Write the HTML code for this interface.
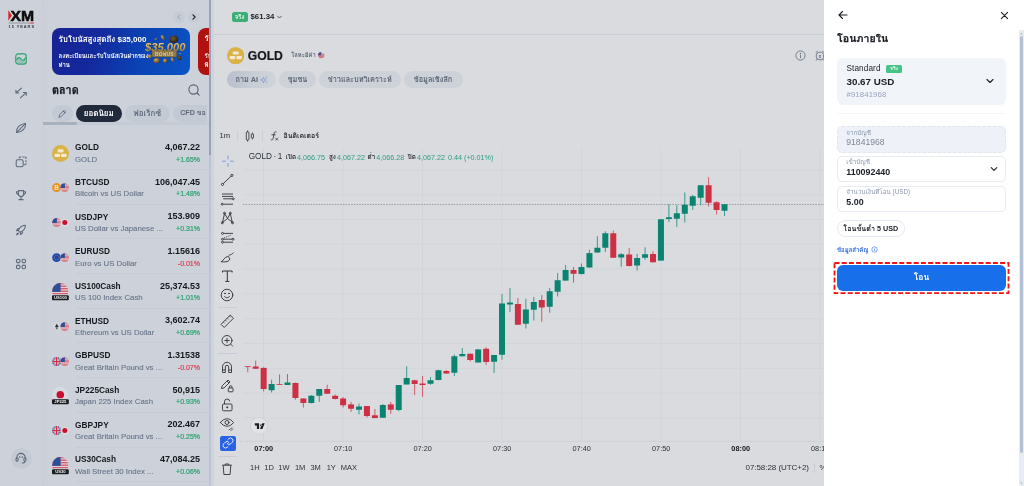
<!DOCTYPE html>
<html lang="th">
<head>
<meta charset="utf-8">
<title>XM - โอนภายใน</title>
<style>
*{box-sizing:border-box;margin:0;padding:0}
html,body{width:1024px;height:486px;overflow:hidden;background:#d9dbdf}
body{font-family:"Liberation Sans","Loma","Noto Sans Thai Looped","Noto Sans Thai",sans-serif;color:#111;position:relative;font-size:10px;line-height:1}
.abs{position:absolute}
.t{position:absolute;white-space:nowrap;line-height:1}
/* left */
#left{position:absolute;left:0;top:0;width:209px;height:486px;background:#cdd2da;overflow:hidden}
#navline{position:absolute;left:42.5px;top:0;width:0;height:486px;border-left:1px dotted #c3c9d3}
#sb1{position:absolute;left:209px;top:0;width:2px;height:486px;background:#b9c4d4}
#sb1 i{position:absolute;left:0;top:0;width:2px;height:155px;background:#97a4b5}
#gap{position:absolute;left:211px;top:0;width:3px;height:486px;background:#ced4dd}
.navic{position:absolute;left:14.3px;width:14px;height:14px}
.pill{position:absolute;top:105px;height:17px;border-radius:9px;background:#c4cad3;color:#5f6b7c;font-size:8px;font-weight:700;line-height:17px;text-align:center;white-space:nowrap;overflow:hidden}
.row{position:absolute;left:43px;width:166px;height:34.6px}
.row .nm{position:absolute;left:32px;top:7.8px;font-size:8.3px;font-weight:700;color:#15181d;white-space:nowrap;letter-spacing:0}
.row .sb{position:absolute;left:32px;top:20px;font-size:7.8px;color:#68758a;-webkit-text-stroke:.12px #68758a;white-space:nowrap;letter-spacing:0}
.row .pr{position:absolute;right:9px;top:7.5px;font-size:9px;font-weight:700;color:#15181d;white-space:nowrap}
.row .ch{position:absolute;right:9px;top:20.2px;font-size:7px;-webkit-text-stroke:.2px currentColor;white-space:nowrap}
.row .ln{position:absolute;left:32px;right:0;bottom:0;height:1px;background:#c6ccd5}
.row .ic{position:absolute;left:9px;top:9px;width:17px;height:17px}
.up{color:#2ba36f}.dn{color:#d6455a}
/* chart */
#chart{position:absolute;left:214px;top:0;width:610px;height:486px;background:#d9dbdf;overflow:hidden}
.cp{position:absolute;top:71px;height:17px;border-radius:9px;background:#cdd1d8;color:#5b6677;font-size:7.3px;font-weight:700;line-height:17px;text-align:center;white-space:nowrap;overflow:hidden}
.tool{position:absolute;left:219px;width:16px;height:16px}
/* panel */
#panel{position:absolute;left:824px;top:0;width:200px;height:486px;background:#fff;overflow:hidden}
.fld{position:absolute;left:13px;width:169px;height:25.5px;border:1px solid #e6ebf4;border-radius:5px;background:#fff}
.fld .lb{position:absolute;left:8.3px;top:2px;font-size:6.3px;color:#8a96ab;white-space:nowrap}
.fld .vl{position:absolute;left:8.3px;top:10.3px;font-size:8.9px;font-weight:700;color:#1b1f26;white-space:nowrap}
</style>
</head>
<body>

<!-- ================= LEFT ================= -->
<div id="left">
  <div id="navline"></div>
  <!-- logo -->
  <svg class="abs" style="left:7px;top:8px" width="30" height="22" viewBox="0 0 30 22">
    <polygon points="1.3,2.3 4.9,7.5 1.3,12.8" fill="#d8232a"/>
    <text x="3.6" y="12.9" font-family="Liberation Sans, sans-serif" font-weight="700" font-size="14.5" fill="#0d0d0d" textLength="23.6" lengthAdjust="spacingAndGlyphs" stroke="#0d0d0d" stroke-width=".5">XM</text>
    <rect x="1.5" y="14.6" width="21.5" height=".9" fill="#8d9299"/>
    <rect x="23" y="14.6" width="4" height=".9" fill="#d8232a"/>
    <text x="1.5" y="20" font-family="Liberation Sans, sans-serif" font-weight="700" font-size="3.9" fill="#33373d" textLength="25.5" lengthAdjust="spacing">15 YEARS</text>
  </svg>

  <!-- nav icons -->
  <svg class="navic" style="top:52px" viewBox="0 0 16 16" fill="none" stroke="#2ba36f" stroke-width="1.3" stroke-linecap="round" stroke-linejoin="round"><path d="M3 8.600C5 5.800 6.400 5.800 8 8s3.400 2 5-1v5.500a1 1 0 01-1 1H4a1 1 0 01-1-1z" fill="#2ba36f" fill-opacity=".3" stroke="none"/><rect x="2" y="2.200" width="12" height="11.600" rx="2.600"/><path d="M3 8.600C5 5.800 6.400 5.800 8 8s3.400 2 5-1"/></svg>
  <svg class="navic" style="top:86.4px" viewBox="0 0 16 16" fill="none" stroke="#5c6879" stroke-width="1.2" stroke-linecap="round" stroke-linejoin="round"><path d="M8.500 2.400L2.200 8M2.200 8V4.800M2.200 8h3.300"/><path d="M7.300 13.600L14 7.500M14 7.500v3.200M14 7.500h-3.300"/></svg>
  <svg class="navic" style="top:120.5px" viewBox="0 0 16 16" fill="none" stroke="#5c6879" stroke-width="1.2" stroke-linecap="round" stroke-linejoin="round"><path d="M3 13.200C2.300 8 6.500 3.200 13.200 2.800 13.700 8 9.500 12.800 3 13.200z"/><path d="M3 13.200l10.200-10.400"/></svg>
  <svg class="navic" style="top:154.6px" viewBox="0 0 16 16" fill="none" stroke="#5c6879" stroke-width="1.2" stroke-linecap="round" stroke-linejoin="round"><rect x="2.500" y="5.500" width="8" height="8" rx="1.800"/><path d="M6 3.500v-.3a1 1 0 011-1h.8M10 2.200h1.300M13.700 4v-.8a1 1 0 00-1-1M13.700 6.200v1.600M13.700 9.800v.2a1 1 0 01-1 1h-.4" /></svg>
  <svg class="navic" style="top:187.8px" viewBox="0 0 16 16" fill="none" stroke="#5c6879" stroke-width="1.2" stroke-linecap="round" stroke-linejoin="round"><path d="M5 3h6v3.800a3 3 0 01-6 0z"/><path d="M5 4.200H2.800c0 2 .9 3 2.400 3.200M11 4.200h2.200c0 2-.9 3-2.400 3.200M8 10v2.300M5.600 13.300h4.800"/></svg>
  <svg class="navic" style="top:223px" viewBox="0 0 16 16" fill="none" stroke="#5c6879" stroke-width="1.2" stroke-linecap="round" stroke-linejoin="round"><path d="M6 10l-1-1c.8-3.500 3.500-6.300 8-6.500-.2 4.500-3 7.200-6.500 8z"/><path d="M5.300 8.200l-2.500.6 1.700-2.500 1.600-.1M7.800 10.700l-.6 2.500 2.500-1.700.1-1.600M4.600 11.400c-.9.300-1.500 1.200-1.600 2.100.9-.1 1.800-.7 2.100-1.600"/></svg>
  <svg class="navic" style="top:257px" viewBox="0 0 16 16" fill="none" stroke="#5c6879" stroke-width="1.200"><circle cx="4.800" cy="4.600" r="2.100"/><circle cx="11.200" cy="4.600" r="2.100"/><circle cx="4.800" cy="11.400" r="2.100"/><circle cx="11.200" cy="11.400" r="2.100"/></svg>
  <div class="abs" style="left:11px;top:448px;width:21px;height:21px;border-radius:50%;background:#c3cad4"></div>
  <svg class="navic" style="top:451.3px" viewBox="0 0 16 16" fill="none" stroke="#5c6879" stroke-width="1.2" stroke-linecap="round" stroke-linejoin="round"><path d="M3.200 8.500v-1a4.800 4.800 0 019.600 0v1"/><rect x="2.300" y="8" width="2.400" height="3.600" rx="1"/><rect x="11.300" y="8" width="2.400" height="3.600" rx="1"/><path d="M12.500 11.600c0 1.400-1.200 2-3 2"/><circle cx="6.500" cy="7" r=".3"/><circle cx="9.500" cy="7" r=".3"/></svg>

  <!-- carousel arrows -->
  <div class="abs" style="left:173px;top:11px;width:12px;height:12px;border-radius:50%;background:#c6ccd5"></div>
  <div class="abs" style="left:188px;top:11px;width:12px;height:12px;border-radius:50%;background:#c6ccd5"></div>
  <svg class="abs" style="left:173px;top:11px" width="12" height="12" viewBox="0 0 12 12" fill="none" stroke="#aab2bf" stroke-width="1.1" stroke-linecap="round" stroke-linejoin="round"><path d="M7 3.800L4.900 6 7 8.200"/></svg>
  <svg class="abs" style="left:188px;top:11px" width="12" height="12" viewBox="0 0 12 12" fill="none" stroke="#22272f" stroke-width="1.200" stroke-linecap="round" stroke-linejoin="round"><path d="M5 3.800L7.100 6 5 8.200"/></svg>

  <!-- banner -->
  <div class="abs" style="left:52px;top:27.500px;width:137.500px;height:47px;border-radius:8px;background:linear-gradient(105deg,#182494 0%,#14289c 30%,#0c40b2 60%,#0a55c6 100%);overflow:hidden">
    <div class="t" style="left:6.500px;top:8.300px;font-size:8px;font-weight:700;color:#fff">รับโบนัสสูงสุดถึง $35,000</div>
    <div class="t" style="left:6.500px;top:25.500px;font-size:6px;font-weight:700;color:#fff">ลงทะเบียนและรับโบนัสเงินฝากของ</div>
    <div class="t" style="left:6.500px;top:34.500px;font-size:6px;font-weight:700;color:#fff">ท่าน</div>
    <svg class="abs" style="left:88px;top:2.300px" width="50" height="40" viewBox="88 4 50 40">
      <defs>
        <radialGradient id="coinA" cx=".35" cy=".35" r=".8"><stop offset="0" stop-color="#c9a957"/><stop offset=".6" stop-color="#7a6230"/><stop offset="1" stop-color="#3a2f1a"/></radialGradient>
        <radialGradient id="coinB" cx=".4" cy=".4" r=".8"><stop offset="0" stop-color="#6d5a33"/><stop offset=".7" stop-color="#2e2618"/><stop offset="1" stop-color="#1c1810"/></radialGradient>
        <linearGradient id="goldT" x1="0" y1="0" x2="0" y2="1"><stop offset="0" stop-color="#f3e2a6"/><stop offset=".5" stop-color="#c9a85a"/><stop offset="1" stop-color="#8d7136"/></linearGradient>
      </defs>
      <ellipse cx="122" cy="13.200" rx="4.300" ry="3.800" fill="url(#coinB)"/>
      <ellipse cx="110.800" cy="11.300" rx="1.600" ry="2.800" transform="rotate(-30 110.800 11.300)" fill="url(#coinA)"/>
      <ellipse cx="104" cy="13" rx="1.600" ry=".8" transform="rotate(-20 104 13)" fill="url(#coinA)"/>
      <ellipse cx="104.700" cy="34.600" rx="3.200" ry="2.600" fill="url(#coinA)"/>
      <ellipse cx="113.200" cy="34.800" rx="2.100" ry="2.300" fill="url(#coinA)"/>
      <ellipse cx="120.500" cy="33.500" rx="1.500" ry="2.600" transform="rotate(-25 120.500 33.500)" fill="url(#coinA)"/>
      <ellipse cx="127.500" cy="32" rx="2" ry="2.200" fill="url(#coinB)"/>
      <ellipse cx="98" cy="30.500" rx="2" ry="2.200" fill="url(#coinA)"/>
      <circle cx="128" cy="27.500" r=".8" fill="#a88c4a"/>
      <rect x="100" y="24.300" width="24.700" height="6.600" rx=".8" fill="#8f7a4a" stroke="#5e4f2c" stroke-width=".5"/>
      <text x="112.300" y="29.500" font-family="Liberation Sans, sans-serif" font-weight="700" font-size="4.800" text-anchor="middle" fill="#d9c999" letter-spacing=".3">BONUS</text>
      <text x="93" y="24.800" font-family="Liberation Sans, sans-serif" font-weight="700" font-style="italic" font-size="11.400" textLength="40.500" lengthAdjust="spacingAndGlyphs" fill="url(#goldT)" stroke="#5d4a22" stroke-width=".35" paint-order="stroke">$35,000</text>
    </svg>
  </div>
  <div class="abs" style="left:198px;top:27.500px;width:60px;height:47px;border-radius:8px;background:#b0120f;overflow:hidden">
    <div class="t" style="left:6.500px;top:7.500px;font-size:7.600px;font-weight:700;color:#fff">รับ</div>
    <div class="t" style="left:6.500px;top:25.500px;font-size:6px;font-weight:700;color:#fff">รับ</div>
    <div class="t" style="left:6.500px;top:34.500px;font-size:6px;font-weight:700;color:#fff">พิ</div>
  </div>

  <!-- heading -->
  <div class="t" style="left:52px;top:84.500px;font-size:10.800px;font-weight:700;color:#14171c;-webkit-text-stroke:.25px #14171c">ตลาด</div>
  <svg class="abs" style="left:187px;top:83px" width="14" height="14" viewBox="0 0 14 14" fill="none" stroke="#566173" stroke-width="1.100" stroke-linecap="round"><circle cx="6.500" cy="6.500" r="4.600"/><path d="M10 10l2.200 2.200"/></svg>

  <!-- tabs -->
  <div class="pill" style="left:52px;width:20.500px"></div>
  <svg class="abs" style="left:57px;top:108.500px" width="10" height="10" viewBox="0 0 10 10" fill="none" stroke="#5f6b7c" stroke-width=".9" stroke-linecap="round" stroke-linejoin="round"><path d="M2 8l.5-2.200L7 1.300 8.700 3 4.200 7.500zM6.200 2.200l1.600 1.600"/></svg>
  <div class="pill" style="left:75.500px;width:46.500px;background:#202a3a;color:#fff">ยอดนิยม</div>
  <div class="pill" style="left:125px;width:44.500px">ฟอเร็กซ์</div>
  <div class="pill" style="left:172.500px;width:34.500px;border-radius:9px 0 0 9px;text-align:left;padding-left:7.700px;font-size:7.100px">CFD ขอ</div>
  <div class="abs" style="left:43px;top:122px;width:166px;height:2.500px;background:#c5cbd4"></div>
  <div class="abs" style="left:43px;top:122px;width:34px;height:2.500px;background:#a7b0bd;border-radius:0 2px 2px 0"></div>

  <!-- rows -->
  <div class="row" style="top:135.50px">
    <svg class="ic" viewBox="0 0 16 16"><circle cx="8" cy="8" r="8" fill="#d9b347"/><rect x="5.200" y="4.100" width="5.800" height="2.900" rx="1.300" fill="#f4ead0"/><rect x="2.300" y="8.300" width="5.400" height="3" rx="1.300" fill="#f4ead0"/><rect x="8.500" y="8.300" width="5.400" height="3" rx="1.300" fill="#f4ead0"/></svg>
    <div class="nm">GOLD</div><div class="sb">GOLD</div><div class="pr">4,067.22</div><div class="ch up">+1.65%</div><div class="ln"></div>
  </div>
  <div class="row" style="top:170.18px">
    <svg class="ic" viewBox="0 0 17 17"><circle cx="4.6" cy="8.6" r="4.5" fill="#e8921f"/><text x="4.6" y="10.9" font-size="6.4" font-weight="700" text-anchor="middle" fill="#f6e3c4" font-family="Liberation Sans, sans-serif">B</text><clipPath id="cu1"><circle cx="12.7" cy="8.6" r="4.4"/></clipPath><g clip-path="url(#cu1)"><rect x="8.3" y="4.2" width="8.8" height="8.8" fill="#e6d3d8"/><rect x="8.3" y="4.20" width="8.8" height="0.68" fill="#cf5564"/><rect x="8.3" y="5.55" width="8.8" height="0.68" fill="#cf5564"/><rect x="8.3" y="6.91" width="8.8" height="0.68" fill="#cf5564"/><rect x="8.3" y="8.26" width="8.8" height="0.68" fill="#cf5564"/><rect x="8.3" y="9.62" width="8.8" height="0.68" fill="#cf5564"/><rect x="8.3" y="10.97" width="8.8" height="0.68" fill="#cf5564"/><rect x="8.3" y="12.32" width="8.8" height="0.68" fill="#cf5564"/><rect x="8.3" y="4.2" width="4.62" height="4.75" fill="#2c4f98"/></g></svg>
    <div class="nm">BTCUSD</div><div class="sb">Bitcoin vs US Dollar</div><div class="pr">106,047.45</div><div class="ch up">+1.48%</div><div class="ln"></div>
  </div>
  <div class="row" style="top:204.86px">
    <svg class="ic" viewBox="0 0 17 17"><clipPath id="cu2"><circle cx="4.6" cy="8.6" r="4.5"/></clipPath><g clip-path="url(#cu2)"><rect x="0.1" y="4.1" width="9.0" height="9.0" fill="#e6d3d8"/><rect x="0.1" y="4.10" width="9.0" height="0.69" fill="#cf5564"/><rect x="0.1" y="5.48" width="9.0" height="0.69" fill="#cf5564"/><rect x="0.1" y="6.87" width="9.0" height="0.69" fill="#cf5564"/><rect x="0.1" y="8.25" width="9.0" height="0.69" fill="#cf5564"/><rect x="0.1" y="9.64" width="9.0" height="0.69" fill="#cf5564"/><rect x="0.1" y="11.02" width="9.0" height="0.69" fill="#cf5564"/><rect x="0.1" y="12.41" width="9.0" height="0.69" fill="#cf5564"/><rect x="0.1" y="4.1" width="4.73" height="4.86" fill="#2c4f98"/></g><circle cx="12.8" cy="8.6" r="4.2" fill="#d6dbe2"/><circle cx="12.8" cy="8.6" r="2.52" fill="#c8102e"/></svg>
    <div class="nm">USDJPY</div><div class="sb">US Dollar vs Japanese ...</div><div class="pr">153.909</div><div class="ch up">+0.31%</div><div class="ln"></div>
  </div>
  <div class="row" style="top:239.54px">
    <svg class="ic" viewBox="0 0 17 17"><circle cx="4.6" cy="8.6" r="4.4" fill="#1d46ad"/><circle cx="4.6" cy="8.6" r="2.42" fill="none" stroke="#cdbb5c" stroke-width=".7" stroke-dasharray=".7 .75"/><clipPath id="cu3"><circle cx="12.7" cy="8.6" r="4.4"/></clipPath><g clip-path="url(#cu3)"><rect x="8.3" y="4.2" width="8.8" height="8.8" fill="#e6d3d8"/><rect x="8.3" y="4.20" width="8.8" height="0.68" fill="#cf5564"/><rect x="8.3" y="5.55" width="8.8" height="0.68" fill="#cf5564"/><rect x="8.3" y="6.91" width="8.8" height="0.68" fill="#cf5564"/><rect x="8.3" y="8.26" width="8.8" height="0.68" fill="#cf5564"/><rect x="8.3" y="9.62" width="8.8" height="0.68" fill="#cf5564"/><rect x="8.3" y="10.97" width="8.8" height="0.68" fill="#cf5564"/><rect x="8.3" y="12.32" width="8.8" height="0.68" fill="#cf5564"/><rect x="8.3" y="4.2" width="4.62" height="4.75" fill="#2c4f98"/></g></svg>
    <div class="nm">EURUSD</div><div class="sb">Euro vs US Dollar</div><div class="pr">1.15616</div><div class="ch dn">-0.01%</div><div class="ln"></div>
  </div>
  <div class="row" style="top:274.22px">
    <svg class="ic" viewBox="0 0 17 18" style="height:18px"><clipPath id="ci4"><rect x="0" y="0" width="17" height="11.600"/></clipPath><g clip-path="url(#ci4)"><clipPath id="cu5"><circle cx="8.2" cy="8.2" r="8.1"/></clipPath><g clip-path="url(#cu5)"><rect x="0.1" y="0.1" width="16.2" height="16.2" fill="#e6d3d8"/><rect x="0.1" y="0.10" width="16.2" height="1.25" fill="#cf5564"/><rect x="0.1" y="2.59" width="16.2" height="1.25" fill="#cf5564"/><rect x="0.1" y="5.08" width="16.2" height="1.25" fill="#cf5564"/><rect x="0.1" y="7.58" width="16.2" height="1.25" fill="#cf5564"/><rect x="0.1" y="10.07" width="16.2" height="1.25" fill="#cf5564"/><rect x="0.1" y="12.56" width="16.2" height="1.25" fill="#cf5564"/><rect x="0.1" y="15.05" width="16.2" height="1.25" fill="#cf5564"/><rect x="0.1" y="0.1" width="8.51" height="8.75" fill="#2c4f98"/></g></g><rect x="0" y="12.300" width="16.800" height="5" rx="1" fill="#1b1d22"/><text x="8.400" y="16.300" font-size="4.200" font-weight="700" text-anchor="middle" fill="#f0f0f0" font-family="Liberation Sans, sans-serif">US100</text></svg>
    <div class="nm">US100Cash</div><div class="sb">US 100 Index Cash</div><div class="pr">25,374.53</div><div class="ch up">+1.01%</div><div class="ln"></div>
  </div>
  <div class="row" style="top:308.90px">
    <svg class="ic" viewBox="0 0 17 17"><circle cx="4.8" cy="8.6" r="4" fill="#d3d8df"/><path d="M4.8 5.8L3.0 8.7 4.8 9.7 6.6 8.7zM3.1 9.4L4.8 11.6 6.5 9.4 4.8 10.4z" fill="#2b2f38"/><clipPath id="cu6"><circle cx="12.7" cy="8.6" r="4.4"/></clipPath><g clip-path="url(#cu6)"><rect x="8.3" y="4.2" width="8.8" height="8.8" fill="#e6d3d8"/><rect x="8.3" y="4.20" width="8.8" height="0.68" fill="#cf5564"/><rect x="8.3" y="5.55" width="8.8" height="0.68" fill="#cf5564"/><rect x="8.3" y="6.91" width="8.8" height="0.68" fill="#cf5564"/><rect x="8.3" y="8.26" width="8.8" height="0.68" fill="#cf5564"/><rect x="8.3" y="9.62" width="8.8" height="0.68" fill="#cf5564"/><rect x="8.3" y="10.97" width="8.8" height="0.68" fill="#cf5564"/><rect x="8.3" y="12.32" width="8.8" height="0.68" fill="#cf5564"/><rect x="8.3" y="4.2" width="4.62" height="4.75" fill="#2c4f98"/></g></svg>
    <div class="nm">ETHUSD</div><div class="sb">Ethereum vs US Dollar</div><div class="pr">3,602.74</div><div class="ch up">+0.69%</div><div class="ln"></div>
  </div>
  <div class="row" style="top:343.58px">
    <svg class="ic" viewBox="0 0 17 17"><clipPath id="cg7"><circle cx="4.6" cy="8.6" r="4.5"/></clipPath><g clip-path="url(#cg7)"><rect x="0.1" y="4.1" width="9.0" height="9.0" fill="#2b418f"/><path d="M0.1 4.1L9.1 13.1M9.1 4.1L0.1 13.1" stroke="#e6e0e6" stroke-width="1.3"/><path d="M0.1 4.1L9.1 13.1M9.1 4.1L0.1 13.1" stroke="#c8304a" stroke-width=".5"/><path d="M4.6 4.1V13.1M0.1 8.6H9.1" stroke="#e6e0e6" stroke-width="2.4"/><path d="M4.6 4.1V13.1M0.1 8.6H9.1" stroke="#c8304a" stroke-width="1.3"/></g><clipPath id="cu8"><circle cx="12.7" cy="8.6" r="4.4"/></clipPath><g clip-path="url(#cu8)"><rect x="8.3" y="4.2" width="8.8" height="8.8" fill="#e6d3d8"/><rect x="8.3" y="4.20" width="8.8" height="0.68" fill="#cf5564"/><rect x="8.3" y="5.55" width="8.8" height="0.68" fill="#cf5564"/><rect x="8.3" y="6.91" width="8.8" height="0.68" fill="#cf5564"/><rect x="8.3" y="8.26" width="8.8" height="0.68" fill="#cf5564"/><rect x="8.3" y="9.62" width="8.8" height="0.68" fill="#cf5564"/><rect x="8.3" y="10.97" width="8.8" height="0.68" fill="#cf5564"/><rect x="8.3" y="12.32" width="8.8" height="0.68" fill="#cf5564"/><rect x="8.3" y="4.2" width="4.62" height="4.75" fill="#2c4f98"/></g></svg>
    <div class="nm">GBPUSD</div><div class="sb">Great Britain Pound vs ...</div><div class="pr">1.31538</div><div class="ch dn">-0.07%</div><div class="ln"></div>
  </div>
  <div class="row" style="top:378.26px">
    <svg class="ic" viewBox="0 0 17 18" style="height:18px"><clipPath id="ci9"><rect x="0" y="0" width="17" height="11.600"/></clipPath><g clip-path="url(#ci9)"><circle cx="8.200" cy="8.200" r="8.100" fill="#d6dbe2"/><circle cx="8.300" cy="7.700" r="3.800" fill="#c8102e"/></g><rect x="0" y="12.300" width="16.800" height="5" rx="1" fill="#1b1d22"/><text x="8.400" y="16.300" font-size="4.200" font-weight="700" text-anchor="middle" fill="#f0f0f0" font-family="Liberation Sans, sans-serif">JP225</text></svg>
    <div class="nm">JP225Cash</div><div class="sb">Japan 225 Index Cash</div><div class="pr">50,915</div><div class="ch up">+0.93%</div><div class="ln"></div>
  </div>
  <div class="row" style="top:412.94px">
    <svg class="ic" viewBox="0 0 17 17"><clipPath id="cg10"><circle cx="4.6" cy="8.6" r="4.5"/></clipPath><g clip-path="url(#cg10)"><rect x="0.1" y="4.1" width="9.0" height="9.0" fill="#2b418f"/><path d="M0.1 4.1L9.1 13.1M9.1 4.1L0.1 13.1" stroke="#e6e0e6" stroke-width="1.3"/><path d="M0.1 4.1L9.1 13.1M9.1 4.1L0.1 13.1" stroke="#c8304a" stroke-width=".5"/><path d="M4.6 4.1V13.1M0.1 8.6H9.1" stroke="#e6e0e6" stroke-width="2.4"/><path d="M4.6 4.1V13.1M0.1 8.6H9.1" stroke="#c8304a" stroke-width="1.3"/></g><circle cx="12.8" cy="8.6" r="4.2" fill="#d6dbe2"/><circle cx="12.8" cy="8.6" r="2.52" fill="#c8102e"/></svg>
    <div class="nm">GBPJPY</div><div class="sb">Great Britain Pound vs ...</div><div class="pr">202.467</div><div class="ch up">+0.25%</div><div class="ln"></div>
  </div>
  <div class="row" style="top:447.62px">
    <svg class="ic" viewBox="0 0 17 18" style="height:18px"><clipPath id="ci11"><rect x="0" y="0" width="17" height="11.600"/></clipPath><g clip-path="url(#ci11)"><clipPath id="cu12"><circle cx="8.2" cy="8.2" r="8.1"/></clipPath><g clip-path="url(#cu12)"><rect x="0.1" y="0.1" width="16.2" height="16.2" fill="#e6d3d8"/><rect x="0.1" y="0.10" width="16.2" height="1.25" fill="#cf5564"/><rect x="0.1" y="2.59" width="16.2" height="1.25" fill="#cf5564"/><rect x="0.1" y="5.08" width="16.2" height="1.25" fill="#cf5564"/><rect x="0.1" y="7.58" width="16.2" height="1.25" fill="#cf5564"/><rect x="0.1" y="10.07" width="16.2" height="1.25" fill="#cf5564"/><rect x="0.1" y="12.56" width="16.2" height="1.25" fill="#cf5564"/><rect x="0.1" y="15.05" width="16.2" height="1.25" fill="#cf5564"/><rect x="0.1" y="0.1" width="8.51" height="8.75" fill="#2c4f98"/></g></g><rect x="0" y="12.300" width="16.800" height="5" rx="1" fill="#1b1d22"/><text x="8.400" y="16.300" font-size="4.200" font-weight="700" text-anchor="middle" fill="#f0f0f0" font-family="Liberation Sans, sans-serif">US30</text></svg>
    <div class="nm">US30Cash</div><div class="sb">Wall Street 30 Index ...</div><div class="pr">47,084.25</div><div class="ch up">+0.06%</div><div class="ln"></div>
  </div>
</div>
<div id="sb1"><i></i></div>
<div id="gap"></div>

<div id="chart" style="left:0;width:824px;background:none">
  <!-- header -->
  <div class="abs" style="left:231.500px;top:11.500px;width:16px;height:10.500px;border-radius:2.500px;background:#3cae76"></div>
  <div class="t" style="left:231.500px;top:13.500px;width:16px;text-align:center;font-size:6px;font-weight:700;color:#e9f7ef">จริง</div>
  <div class="t" style="left:250.500px;top:13px;font-size:7.800px;font-weight:700;color:#1b1f26">$61.34</div>
  <svg class="abs" style="left:276.300px;top:14px" width="7" height="6" viewBox="0 0 7 6" fill="none" stroke="#444c59" stroke-width=".9" stroke-linecap="round" stroke-linejoin="round"><path d="M1.700 2.200L3.500 4l1.800-1.800"/></svg>
  <div class="abs" style="left:214px;top:33.500px;width:610px;height:1px;background:#c7ced7"></div>
  <svg class="abs" style="left:794.700px;top:50.200px" width="11" height="11" viewBox="0 0 11 11" fill="none" stroke="#5c6879" stroke-width=".8"><circle cx="5.500" cy="5.500" r="4.600"/><path d="M5.500 5v2.700" stroke-linecap="round"/><circle cx="5.500" cy="3.400" r=".3" fill="#5c6879"/></svg>
  <svg class="abs" style="left:813.500px;top:50.200px" width="11" height="11" viewBox="0 0 11 11" fill="none" stroke="#5c6879" stroke-width=".8" stroke-linecap="round"><circle cx="6" cy="6" r="3.900"/><path d="M2 2.400l1.400-1.200M10 2.400L8.600 1.200M3.300 9l-1 1.200M8.700 9l1 1.200"/><text x="6" y="7.600" font-size="4.400" font-weight="700" text-anchor="middle" fill="#5c6879" stroke="none" font-family="Liberation Sans, sans-serif">$</text></svg>

  <!-- symbol -->
  <svg class="abs" style="left:226.700px;top:46.800px" width="17.300" height="17.300" viewBox="0 0 16 16"><circle cx="8" cy="8" r="8" fill="#d9b347"/><rect x="5.200" y="4.100" width="5.800" height="2.900" rx="1.300" fill="#f4ead0"/><rect x="2.300" y="8.300" width="5.400" height="3" rx="1.300" fill="#f4ead0"/><rect x="8.500" y="8.300" width="5.400" height="3" rx="1.300" fill="#f4ead0"/></svg>
  <div class="t" style="left:247.700px;top:49.800px;font-size:12.200px;font-weight:700;color:#14171c;-webkit-text-stroke:.2px #14171c">GOLD</div>
  <div class="t" style="left:291.200px;top:52.800px;font-size:5.800px;font-weight:700;color:#5a6677">โลหะมีค่า</div>
  <svg class="abs" style="left:318.300px;top:52.200px" width="6.500" height="6.500" viewBox="0 0 10 10"><circle cx="5" cy="5" r="5" fill="#e3d5da"/><path d="M.500 3.200h9M0 5h10M.500 6.800h9M1.800 8.600h6.400" stroke="#c8485a" stroke-width="1.100"/><path d="M0 5a5 5 0 015-5v5z" fill="#44508c"/></svg>

  <!-- pills -->
  <div class="cp" style="left:227px;width:49px;background:linear-gradient(90deg,#b9c0cc 0%,#c9ced6 55%,#cfd3da 100%);text-align:left;padding-left:8.500px">ถาม AI</div>
  <svg class="abs" style="left:260px;top:75.500px" width="8" height="8" viewBox="0 0 8 8" fill="none" stroke="#7a93d6" stroke-width=".7" stroke-linejoin="round"><path d="M3.500 1.200l.8 2 2 .8-2 .8-.8 2-.8-2-2-.8 2-.8z"/><path d="M6.500 0.800v1.400M5.800 1.500h1.400M6.700 5.800v1.200M6.100 6.400h1.200" stroke-width=".5"/></svg>
  <div class="cp" style="left:279px;width:37px">ชุมชน</div>
  <div class="cp" style="left:319px;width:81.500px">ข่าวและบทวิเคราะห์</div>
  <div class="cp" style="left:403.500px;width:59px">ข้อมูลเชิงลึก</div>

  <!-- toolbar -->
  <div class="t" style="left:219.500px;top:132px;font-size:7.600px;color:#2a2e35">1m</div>
  <div class="abs" style="left:236.500px;top:130px;width:1px;height:11.500px;background:#ccd0d6"></div>
  <svg class="abs" style="left:245px;top:129.500px" width="10" height="12" viewBox="0 0 10 12" fill="none" stroke="#2a2e35" stroke-width=".8"><rect x="1.300" y="2" width="2.600" height="8" rx=".4"/><path d="M2.600 .4V2M2.600 10v1.600"/><rect x="6.300" y="4" width="2.200" height="4" rx=".4"/><path d="M7.400 2.600V4M7.400 8v1.400"/></svg>
  <div class="abs" style="left:261.500px;top:130px;width:1px;height:11.500px;background:#ccd0d6"></div>
  <svg class="abs" style="left:270px;top:129.500px" width="10" height="12" viewBox="0 0 10 12" fill="none" stroke="#2a2e35" stroke-width=".8" stroke-linecap="round"><path d="M1.200 9.800c1.200.4 1.800-.2 2-1.500l.9-5c.2-1.300.9-1.800 2-1.400M1.800 4.800h3.400"/><path d="M5.600 8l2.200 2.200M7.800 8l-2.200 2.200" stroke-width=".7"/></svg>
  <div class="t" style="left:283.500px;top:132.300px;font-size:7px;font-weight:700;color:#2a2e35">อินดิเคเตอร์</div>

  <!-- chart svg -->
  <svg class="abs" style="left:0;top:0" width="824" height="486" viewBox="0 0 824 486" shape-rendering="auto">
    <g opacity=".9">
    <rect x="263.0" y="148" width="1" height="292" fill="#d1d4d9"/>
<rect x="342.5" y="148" width="1" height="292" fill="#d1d4d9"/>
<rect x="422.0" y="148" width="1" height="292" fill="#d1d4d9"/>
<rect x="501.5" y="148" width="1" height="292" fill="#d1d4d9"/>
<rect x="581.0" y="148" width="1" height="292" fill="#d1d4d9"/>
<rect x="660.5" y="148" width="1" height="292" fill="#d1d4d9"/>
<rect x="740.0" y="148" width="1" height="292" fill="#d1d4d9"/>
<rect x="819.5" y="148" width="1" height="292" fill="#d1d4d9"/>
<rect x="243" y="169.4" width="590" height="1" fill="#d1d4d9"/>
<rect x="243" y="194.2" width="590" height="1" fill="#d1d4d9"/>
<rect x="243" y="219.0" width="590" height="1" fill="#d1d4d9"/>
<rect x="243" y="243.8" width="590" height="1" fill="#d1d4d9"/>
<rect x="243" y="268.6" width="590" height="1" fill="#d1d4d9"/>
<rect x="243" y="293.4" width="590" height="1" fill="#d1d4d9"/>
<rect x="243" y="318.2" width="590" height="1" fill="#d1d4d9"/>
<rect x="243" y="343.0" width="590" height="1" fill="#d1d4d9"/>
<rect x="243" y="367.8" width="590" height="1" fill="#d1d4d9"/>
<rect x="243" y="392.6" width="590" height="1" fill="#d1d4d9"/>
<rect x="243" y="417.4" width="590" height="1" fill="#d1d4d9"/>
    </g>
    <rect x="243" y="440.800" width="590" height="1" fill="#cdd0d5"/>
    <path d="M243 204.500H824" stroke="#84898f" stroke-width=".7" stroke-dasharray="1.600 1.100" fill="none"/>
    <rect x="247.25" y="366.25" width="1" height="6.00" fill="#cd3044" opacity=".75"/>
<rect x="244.75" y="366.25" width="6" height="0.80" fill="#cd3044"/>
<rect x="255.20" y="360.60" width="1" height="8.15" fill="#cd3044" opacity=".75"/>
<rect x="252.70" y="366.50" width="6" height="2.25" fill="#cd3044"/>
<rect x="263.14" y="367.25" width="1" height="24.25" fill="#cd3044" opacity=".75"/>
<rect x="260.64" y="367.90" width="6" height="21.10" fill="#cd3044"/>
<rect x="271.09" y="379.75" width="1" height="12.75" fill="#0a8470" opacity=".75"/>
<rect x="268.59" y="384.00" width="6" height="6.25" fill="#0a8470"/>
<rect x="279.03" y="374.40" width="1" height="10.35" fill="#cd3044" opacity=".75"/>
<rect x="276.53" y="384.00" width="6" height="0.80" fill="#cd3044"/>
<rect x="286.98" y="374.00" width="1" height="11.00" fill="#0a8470" opacity=".75"/>
<rect x="284.48" y="382.50" width="6" height="2.50" fill="#0a8470"/>
<rect x="294.93" y="382.50" width="1" height="17.25" fill="#cd3044" opacity=".75"/>
<rect x="292.43" y="383.00" width="6" height="15.00" fill="#cd3044"/>
<rect x="302.87" y="398.25" width="1" height="9.25" fill="#cd3044" opacity=".75"/>
<rect x="300.37" y="398.50" width="6" height="4.50" fill="#cd3044"/>
<rect x="310.82" y="395.00" width="1" height="8.50" fill="#0a8470" opacity=".75"/>
<rect x="308.32" y="395.75" width="6" height="7.25" fill="#0a8470"/>
<rect x="318.76" y="389.00" width="1" height="12.90" fill="#0a8470" opacity=".75"/>
<rect x="316.26" y="389.00" width="6" height="6.75" fill="#0a8470"/>
<rect x="326.71" y="384.75" width="1" height="9.00" fill="#cd3044" opacity=".75"/>
<rect x="324.21" y="389.00" width="6" height="4.75" fill="#cd3044"/>
<rect x="334.66" y="394.40" width="1" height="5.00" fill="#cd3044" opacity=".75"/>
<rect x="332.16" y="395.75" width="6" height="3.25" fill="#cd3044"/>
<rect x="342.60" y="397.25" width="1" height="10.25" fill="#cd3044" opacity=".75"/>
<rect x="340.10" y="398.50" width="6" height="6.75" fill="#cd3044"/>
<rect x="350.55" y="401.90" width="1" height="10.00" fill="#cd3044" opacity=".75"/>
<rect x="348.05" y="404.40" width="6" height="4.35" fill="#cd3044"/>
<rect x="358.49" y="403.50" width="1" height="10.90" fill="#0a8470" opacity=".75"/>
<rect x="355.99" y="406.50" width="6" height="3.25" fill="#0a8470"/>
<rect x="366.44" y="406.00" width="1" height="11.50" fill="#cd3044" opacity=".75"/>
<rect x="363.94" y="406.00" width="6" height="10.00" fill="#cd3044"/>
<rect x="374.39" y="409.00" width="1" height="9.10" fill="#cd3044" opacity=".75"/>
<rect x="371.89" y="415.25" width="6" height="2.85" fill="#cd3044"/>
<rect x="382.33" y="404.00" width="1" height="13.75" fill="#0a8470" opacity=".75"/>
<rect x="379.83" y="405.00" width="6" height="12.75" fill="#0a8470"/>
<rect x="390.28" y="401.90" width="1" height="11.85" fill="#cd3044" opacity=".75"/>
<rect x="387.78" y="404.40" width="6" height="5.35" fill="#cd3044"/>
<rect x="398.22" y="385.00" width="1" height="26.25" fill="#0a8470" opacity=".75"/>
<rect x="395.72" y="385.00" width="6" height="25.00" fill="#0a8470"/>
<rect x="406.17" y="366.25" width="1" height="18.25" fill="#0a8470" opacity=".75"/>
<rect x="403.67" y="378.00" width="6" height="6.50" fill="#0a8470"/>
<rect x="414.12" y="379.75" width="1" height="15.25" fill="#cd3044" opacity=".75"/>
<rect x="411.62" y="380.25" width="6" height="3.75" fill="#cd3044"/>
<rect x="422.06" y="376.00" width="1" height="20.90" fill="#cd3044" opacity=".75"/>
<rect x="419.56" y="383.50" width="6" height="1.50" fill="#cd3044"/>
<rect x="430.01" y="377.00" width="1" height="7.75" fill="#0a8470" opacity=".75"/>
<rect x="427.51" y="380.25" width="6" height="3.50" fill="#0a8470"/>
<rect x="437.95" y="369.75" width="1" height="10.50" fill="#0a8470" opacity=".75"/>
<rect x="435.45" y="370.25" width="6" height="9.75" fill="#0a8470"/>
<rect x="445.90" y="370.00" width="1" height="3.75" fill="#cd3044" opacity=".75"/>
<rect x="443.40" y="371.00" width="6" height="2.50" fill="#cd3044"/>
<rect x="453.85" y="354.50" width="1" height="21.50" fill="#0a8470" opacity=".75"/>
<rect x="451.35" y="356.25" width="6" height="16.50" fill="#0a8470"/>
<rect x="461.79" y="348.00" width="1" height="8.50" fill="#0a8470" opacity=".75"/>
<rect x="459.29" y="354.00" width="6" height="2.25" fill="#0a8470"/>
<rect x="469.74" y="353.50" width="1" height="8.00" fill="#cd3044" opacity=".75"/>
<rect x="467.24" y="353.75" width="6" height="6.25" fill="#cd3044"/>
<rect x="477.68" y="349.00" width="1" height="13.50" fill="#0a8470" opacity=".75"/>
<rect x="475.18" y="349.40" width="6" height="13.10" fill="#0a8470"/>
<rect x="485.63" y="347.25" width="1" height="17.75" fill="#cd3044" opacity=".75"/>
<rect x="483.13" y="348.75" width="6" height="13.25" fill="#cd3044"/>
<rect x="493.58" y="355.00" width="1" height="18.00" fill="#0a8470" opacity=".75"/>
<rect x="491.08" y="355.00" width="6" height="6.75" fill="#0a8470"/>
<rect x="501.52" y="294.00" width="1" height="65.75" fill="#0a8470" opacity=".75"/>
<rect x="499.02" y="303.50" width="6" height="51.25" fill="#0a8470"/>
<rect x="509.47" y="288.00" width="1" height="24.00" fill="#0a8470" opacity=".75"/>
<rect x="506.97" y="302.50" width="6" height="2.00" fill="#0a8470"/>
<rect x="517.41" y="298.00" width="1" height="26.75" fill="#cd3044" opacity=".75"/>
<rect x="514.91" y="304.00" width="6" height="20.75" fill="#cd3044"/>
<rect x="525.36" y="298.75" width="1" height="29.75" fill="#0a8470" opacity=".75"/>
<rect x="522.86" y="309.50" width="6" height="14.25" fill="#0a8470"/>
<rect x="533.31" y="297.00" width="1" height="23.60" fill="#0a8470" opacity=".75"/>
<rect x="530.81" y="302.00" width="6" height="7.75" fill="#0a8470"/>
<rect x="541.25" y="295.00" width="1" height="26.90" fill="#cd3044" opacity=".75"/>
<rect x="538.75" y="300.00" width="6" height="7.50" fill="#cd3044"/>
<rect x="549.20" y="288.00" width="1" height="24.75" fill="#0a8470" opacity=".75"/>
<rect x="546.70" y="291.25" width="6" height="15.50" fill="#0a8470"/>
<rect x="557.14" y="273.00" width="1" height="23.50" fill="#0a8470" opacity=".75"/>
<rect x="554.64" y="280.25" width="6" height="11.50" fill="#0a8470"/>
<rect x="565.09" y="265.00" width="1" height="15.60" fill="#0a8470" opacity=".75"/>
<rect x="562.59" y="270.00" width="6" height="10.60" fill="#0a8470"/>
<rect x="573.04" y="267.00" width="1" height="15.75" fill="#cd3044" opacity=".75"/>
<rect x="570.54" y="270.00" width="6" height="3.75" fill="#cd3044"/>
<rect x="580.98" y="263.50" width="1" height="11.00" fill="#0a8470" opacity=".75"/>
<rect x="578.48" y="267.00" width="6" height="7.00" fill="#0a8470"/>
<rect x="588.93" y="249.75" width="1" height="18.00" fill="#0a8470" opacity=".75"/>
<rect x="586.43" y="253.10" width="6" height="14.40" fill="#0a8470"/>
<rect x="596.87" y="236.25" width="1" height="16.50" fill="#0a8470" opacity=".75"/>
<rect x="594.37" y="247.75" width="6" height="4.75" fill="#0a8470"/>
<rect x="604.82" y="231.25" width="1" height="20.75" fill="#0a8470" opacity=".75"/>
<rect x="602.32" y="233.25" width="6" height="14.50" fill="#0a8470"/>
<rect x="612.77" y="230.50" width="1" height="27.25" fill="#cd3044" opacity=".75"/>
<rect x="610.27" y="233.25" width="6" height="24.50" fill="#cd3044"/>
<rect x="620.71" y="253.00" width="1" height="13.90" fill="#0a8470" opacity=".75"/>
<rect x="618.21" y="254.25" width="6" height="3.25" fill="#0a8470"/>
<rect x="628.66" y="248.00" width="1" height="18.50" fill="#cd3044" opacity=".75"/>
<rect x="626.16" y="254.50" width="6" height="11.50" fill="#cd3044"/>
<rect x="636.60" y="254.00" width="1" height="16.60" fill="#0a8470" opacity=".75"/>
<rect x="634.10" y="258.00" width="6" height="7.50" fill="#0a8470"/>
<rect x="644.55" y="247.25" width="1" height="12.50" fill="#0a8470" opacity=".75"/>
<rect x="642.05" y="254.25" width="6" height="3.50" fill="#0a8470"/>
<rect x="652.50" y="251.25" width="1" height="11.25" fill="#cd3044" opacity=".75"/>
<rect x="650.00" y="254.00" width="6" height="8.25" fill="#cd3044"/>
<rect x="660.44" y="219.25" width="1" height="41.35" fill="#0a8470" opacity=".75"/>
<rect x="657.94" y="219.25" width="6" height="41.35" fill="#0a8470"/>
<rect x="668.39" y="204.25" width="1" height="17.65" fill="#0a8470" opacity=".75"/>
<rect x="665.89" y="217.25" width="6" height="1.75" fill="#0a8470"/>
<rect x="676.33" y="205.25" width="1" height="21.65" fill="#0a8470" opacity=".75"/>
<rect x="673.83" y="213.25" width="6" height="5.50" fill="#0a8470"/>
<rect x="684.28" y="192.50" width="1" height="30.00" fill="#0a8470" opacity=".75"/>
<rect x="681.78" y="204.75" width="6" height="9.00" fill="#0a8470"/>
<rect x="692.23" y="195.00" width="1" height="15.00" fill="#0a8470" opacity=".75"/>
<rect x="689.73" y="196.25" width="6" height="9.50" fill="#0a8470"/>
<rect x="700.17" y="185.25" width="1" height="20.00" fill="#0a8470" opacity=".75"/>
<rect x="697.67" y="185.25" width="6" height="12.50" fill="#0a8470"/>
<rect x="708.12" y="177.25" width="1" height="29.25" fill="#cd3044" opacity=".75"/>
<rect x="705.62" y="185.25" width="6" height="17.50" fill="#cd3044"/>
<rect x="716.06" y="201.25" width="1" height="13.25" fill="#cd3044" opacity=".75"/>
<rect x="713.56" y="202.25" width="6" height="7.75" fill="#cd3044"/>
<rect x="724.01" y="204.25" width="1" height="11.75" fill="#0a8470" opacity=".75"/>
<rect x="721.51" y="204.25" width="6" height="6.50" fill="#0a8470"/>
    <circle cx="259" cy="426" r="8.600" fill="#e0e2e6" stroke="#c9ccd2" stroke-width=".7"/>
    <path d="M254.800 423.300h4.300v5.600h-2.200v-3.400h-2.100zM260.200 425.200a1 1 0 102 0 1 1 0 10-2 0M262.300 423.300h2.400l-2.300 5.600h-2.400z" fill="#1a1c20"/>
    <path d="M241.800 439.500l-1.200 1.300 1.200 1.300" stroke="#b4b9c1" stroke-width=".6" fill="none"/>
  </svg>

  <!-- legend -->
  <div class="t" style="left:248.700px;top:153px;font-size:8.200px;color:#2d3138;word-spacing:-.7px">GOLD · 1</div>
  <div class="t" style="left:285.800px;top:154.300px;font-size:6.300px;font-weight:700;color:#2d3138">เปิด</div>
  <div class="t" style="left:297px;top:154px;font-size:7.200px;color:#2f9d83">4,066.75</div>
  <div class="t" style="left:329px;top:154.300px;font-size:6.300px;font-weight:700;color:#2d3138">สูง</div>
  <div class="t" style="left:337px;top:154px;font-size:7.200px;color:#2f9d83">4,067.22</div>
  <div class="t" style="left:367.600px;top:154.300px;font-size:6.300px;font-weight:700;color:#2d3138">ต่ำ</div>
  <div class="t" style="left:376.300px;top:154px;font-size:7.200px;color:#2f9d83">4,066.28</div>
  <div class="t" style="left:407.800px;top:154.300px;font-size:6.300px;font-weight:700;color:#2d3138">ปิด</div>
  <div class="t" style="left:417px;top:154px;font-size:7.200px;color:#2f9d83">4,067.22</div>
  <div class="t" style="left:448px;top:154px;font-size:7.200px;color:#2f9d83">0.44 (+0.01%)</div>

  <!-- drawing tools -->
  <svg class="tool" style="top:152.500px" viewBox="0 0 16 16" fill="none" stroke="#7c9de6" stroke-width="1"><path d="M9 2.500v3.800M9 10v3.800M3 8.200h3.800M11 8.200h3.800"/></svg>
  <svg class="tool" style="top:172px" viewBox="0 0 16 16" fill="none" stroke="#2f333a" stroke-width=".9"><path d="M4.200 11.700l8-7.600"/><circle cx="3.500" cy="12.400" r="1.100"/><circle cx="12.900" cy="3.400" r="1.100"/></svg>
  <svg class="tool" style="top:190.500px" viewBox="0 0 16 16" fill="none" stroke="#2f333a" stroke-width=".9"><path d="M3 3h11M3 5.400h11M4.200 7.800H13M4.400 13.200H14"/><circle cx="14.200" cy="7.800" r="1"/><circle cx="3.200" cy="13.200" r="1"/></svg>
  <svg class="tool" style="top:209.500px" viewBox="0 0 16 16" fill="none" stroke="#2f333a" stroke-width=".9" stroke-linejoin="round"><path d="M3.500 12.500l2-9 3 5 2.800-5 2 9M3.500 12.500l5-4 5.200 4"/><circle cx="5.500" cy="3.200" r="1"/><circle cx="11.300" cy="3.200" r="1"/><circle cx="3.300" cy="12.800" r="1"/><circle cx="13.500" cy="12.800" r="1"/></svg>
  <svg class="tool" style="top:229.500px" viewBox="0 0 16 16" fill="none" stroke="#2f333a" stroke-width=".9"><path d="M4.600 3.400H14M4.600 9.200H13M4.600 12.200H14"/><path d="M5 8l7.500-3" stroke-dasharray="1 1"/><circle cx="3.500" cy="3.400" r="1"/><circle cx="3.500" cy="9.200" r="1"/><circle cx="14" cy="9.200" r="1"/><circle cx="3.500" cy="12.200" r="1"/></svg>
  <svg class="tool" style="top:249px" viewBox="0 0 16 16" fill="none" stroke="#2f333a" stroke-width=".9" stroke-linecap="round" stroke-linejoin="round"><path d="M2.500 12.800c1.800-.3 2.300-4.800 6.300-5.300 1.800.8 2.300 2.200 1.700 3.500-1.500 2-5 2.200-8 1.800z"/><path d="M9.500 7.200c1.500-2.800 2.300-.2 4.800-3.400"/></svg>
  <svg class="tool" style="top:267.500px" viewBox="0 0 16 16" fill="none" stroke="#2f333a" stroke-width="1"><path d="M3.500 4.500V3h9.600v1.500M8.300 3v10.300M6.300 13.400h4"/></svg>
  <svg class="tool" style="top:286.500px" viewBox="0 0 16 16" fill="none" stroke="#2f333a" stroke-width=".9" stroke-linecap="round"><circle cx="8" cy="8" r="5.800"/><path d="M5.500 9.500c1.200 1.800 3.800 1.800 5 0"/><circle cx="6" cy="6.500" r=".4" fill="#2f333a"/><circle cx="10" cy="6.500" r=".4" fill="#2f333a"/></svg>
  <div class="abs" style="left:218px;top:307.200px;width:19px;height:1px;background:#c9ccd2"></div>
  <svg class="tool" style="top:313px" viewBox="0 0 16 16" fill="none" stroke="#2f333a" stroke-width=".9" stroke-linejoin="round"><path d="M2 11.300L11.300 2 14.500 5.200 5.200 14.500z"/><path d="M4.300 9l1.400 1.400M6.300 7l1.400 1.400M8.300 5l1.400 1.400M10.300 3l1.400 1.400" stroke-width=".7"/></svg>
  <svg class="tool" style="top:332.500px" viewBox="0 0 16 16" fill="none" stroke="#2f333a" stroke-width=".9" stroke-linecap="round"><circle cx="8" cy="7.500" r="5"/><path d="M11.700 11.200l2 2M5.800 7.500h4.400M8 5.300v4.400"/></svg>
  <div class="abs" style="left:218px;top:353px;width:19px;height:1px;background:#c3cbd6"></div>
  <svg class="tool" style="top:358.500px" viewBox="0 0 16 16" fill="none" stroke="#2f333a" stroke-width=".9"><path d="M3.500 13.500V7.800a4.500 4.500 0 019 0v5.700h-2.800V8a1.700 1.700 0 00-3.400 0v5.500z"/><path d="M3.500 11h2.800M9.700 11h2.800"/></svg>
  <svg class="tool" style="top:377.500px" viewBox="0 0 16 16" fill="none" stroke="#2f333a" stroke-width=".9" stroke-linejoin="round"><path d="M2.500 10.500l.6-2.600L9 2l2 2-5.900 5.900zM8 3l2 2"/><rect x="9.300" y="10" width="4.700" height="3.800" rx=".6"/><path d="M10.400 10V9a1.300 1.300 0 012.600 0v1"/></svg>
  <svg class="tool" style="top:397px" viewBox="0 0 16 16" fill="none" stroke="#2f333a" stroke-width=".9"><rect x="3.500" y="7" width="9.500" height="6.800" rx="1"/><path d="M5.500 7V4.800a2.600 2.600 0 015.200-.3"/><circle cx="8.200" cy="10.300" r=".6" fill="#2f333a"/></svg>
  <svg class="tool" style="top:415.500px" viewBox="0 0 16 16" fill="none" stroke="#2f333a" stroke-width=".9" stroke-linecap="round"><path d="M1.500 6.500c3.500-5 9.500-5 13 0-3.500 5-9.500 5-13 0z"/><circle cx="8" cy="6.500" r="2"/><path d="M10 13.800l3-2M11.800 14.500l2.200-1.500" stroke-width=".7"/></svg>
  <div class="abs" style="left:219.500px;top:435.500px;width:16px;height:15.500px;border-radius:2px;background:#2a62e4"></div>
  <svg class="abs" style="left:221.700px;top:437.400px" width="12" height="12" viewBox="0 0 24 24" fill="none" stroke="#e3ebfc" stroke-width="2" stroke-linecap="round" stroke-linejoin="round"><path d="M10 13a5 5 0 007.540.540l3-3a5 5 0 00-7.070-7.070l-1.720 1.710"/><path d="M14 11a5 5 0 00-7.540-.540l-3 3a5 5 0 007.070 7.070l1.710-1.710"/></svg>
  <div class="abs" style="left:218px;top:456px;width:19px;height:1px;background:#c9ccd2"></div>
  <svg class="tool" style="top:461px" viewBox="0 0 16 16" fill="none" stroke="#2f333a" stroke-width=".9" stroke-linejoin="round"><path d="M3.200 4.200h9.600M6.200 4.200V3h3.600v1.200M4.200 4.200l.7 9.300h6.200l.7-9.300"/></svg>

  <!-- time axis -->
  <div class="t" style="left:243.700px;top:445.200px;width:40px;text-align:center;font-size:7.300px;font-weight:700;color:#16181c">07:00</div>
  <div class="t" style="left:323.200px;top:445.200px;width:40px;text-align:center;font-size:7.300px;color:#2d3138">07:10</div>
  <div class="t" style="left:402.700px;top:445.200px;width:40px;text-align:center;font-size:7.300px;color:#2d3138">07:20</div>
  <div class="t" style="left:482.200px;top:445.200px;width:40px;text-align:center;font-size:7.300px;color:#2d3138">07:30</div>
  <div class="t" style="left:561.700px;top:445.200px;width:40px;text-align:center;font-size:7.300px;color:#2d3138">07:40</div>
  <div class="t" style="left:641.200px;top:445.200px;width:40px;text-align:center;font-size:7.300px;color:#2d3138">07:50</div>
  <div class="t" style="left:720.700px;top:445.200px;width:40px;text-align:center;font-size:7.300px;font-weight:700;color:#16181c">08:00</div>
  <div class="t" style="left:800.200px;top:445.200px;width:40px;text-align:center;font-size:7.300px;color:#2d3138">08:10</div>

  <!-- ranges -->
  <div class="t" style="left:239.8px;top:464.300px;width:30px;text-align:center;font-size:7.500px;color:#2d3138">1H</div>
  <div class="t" style="left:254.1px;top:464.300px;width:30px;text-align:center;font-size:7.500px;color:#2d3138">1D</div>
  <div class="t" style="left:268.9px;top:464.300px;width:30px;text-align:center;font-size:7.500px;color:#2d3138">1W</div>
  <div class="t" style="left:285.1px;top:464.300px;width:30px;text-align:center;font-size:7.500px;color:#2d3138">1M</div>
  <div class="t" style="left:300.6px;top:464.300px;width:30px;text-align:center;font-size:7.500px;color:#2d3138">3M</div>
  <div class="t" style="left:316.3px;top:464.300px;width:30px;text-align:center;font-size:7.500px;color:#2d3138">1Y</div>
  <div class="t" style="left:334.0px;top:464.300px;width:30px;text-align:center;font-size:7.500px;color:#2d3138">MAX</div>
  <div class="t" style="left:745.500px;top:464px;font-size:8px;color:#2d3138;letter-spacing:-.05px">07:58:28 (UTC+2)</div>
  <div class="abs" style="left:814px;top:462.500px;width:1px;height:10px;background:#c9ccd2"></div>
  <div class="t" style="left:819.500px;top:464px;font-size:8px;color:#2d3138">%</div>
</div>


<div id="panel">
  <svg class="abs" style="left:13px;top:9px" width="12" height="12" viewBox="0 0 12 12" fill="none" stroke="#1b1f26" stroke-width="1.100" stroke-linecap="round" stroke-linejoin="round"><path d="M10 6H2.200M5.500 2.500L2 6l3.500 3.500"/></svg>
  <svg class="abs" style="left:175px;top:9.500px" width="11" height="11" viewBox="0 0 11 11" fill="none" stroke="#1b1f26" stroke-width="1.100" stroke-linecap="round"><path d="M2.400 2.400l6.200 6.200M8.600 2.400l-6.200 6.200"/></svg>
  <div class="t" style="left:13px;top:33px;font-size:10.700px;font-weight:700;color:#1b1f26;-webkit-text-stroke:.25px #1b1f26">โอนภายใน</div>

  <div class="abs" style="left:13px;top:58px;width:169px;height:46.500px;border-radius:6px;background:#f1f4f9"></div>
  <div class="t" style="left:22.500px;top:64.500px;font-size:8.200px;color:#1b1f26;letter-spacing:.1px">Standard</div>
  <div class="abs" style="left:62px;top:64.500px;width:16px;height:8px;border-radius:1.500px;background:#46c486"></div>
  <div class="t" style="left:62px;top:66px;width:16px;text-align:center;font-size:5px;font-weight:700;color:#eafaf1">จริง</div>
  <div class="t" style="left:22.500px;top:77px;font-size:9.800px;font-weight:700;color:#1b1f26">30.67 USD</div>
  <div class="t" style="left:22.500px;top:90.500px;font-size:7.800px;color:#97a5c0;letter-spacing:.1px">#91841968</div>
  <svg class="abs" style="left:161px;top:76px" width="10" height="10" viewBox="0 0 10 10" fill="none" stroke="#1b1f26" stroke-width="1.100" stroke-linecap="round" stroke-linejoin="round"><path d="M2 3.500l3 3 3-3"/></svg>
  <div class="abs" style="left:13px;top:113px;width:169px;height:1px;background:#f3f5f8"></div>

  <div class="fld" style="top:126px;height:26.500px;background:#eef2f8;border:1px dashed #dfe6f1">
    <div class="lb" style="top:2.500px">จากบัญชี</div><div class="vl" style="top:11px;color:#7f8796;font-weight:400;font-size:8.600px">91841968</div>
  </div>
  <div class="fld" style="top:156.300px">
    <div class="lb">เข้าบัญชี</div><div class="vl">110092440</div>
  </div>
  <svg class="abs" style="left:165px;top:164px" width="10" height="10" viewBox="0 0 10 10" fill="none" stroke="#1b1f26" stroke-width="1.100" stroke-linecap="round" stroke-linejoin="round"><path d="M2.200 3.700l2.800 2.700 2.800-2.700"/></svg>
  <div class="fld" style="top:186.300px">
    <div class="lb">จำนวนเงินที่โอน (USD)</div><div class="vl">5.00</div>
  </div>

  <div class="abs" style="left:13px;top:220px;width:67.500px;height:16.500px;border:1px solid #e3e9f3;border-radius:8.500px"></div>
  <div class="t" style="left:13px;top:224.500px;width:67.500px;text-align:center;font-size:7.200px;font-weight:700;color:#1b1f26">โอนขั้นต่ำ 5 USD</div>
  <div class="t" style="left:13px;top:247px;font-size:6px;font-weight:700;color:#2a67dd">ข้อมูลสำคัญ</div>
  <svg class="abs" style="left:47px;top:245.500px" width="7" height="7" viewBox="0 0 7 7" fill="none" stroke="#2a67dd" stroke-width=".6"><circle cx="3.500" cy="3.500" r="2.700"/><path d="M3.500 3.200v1.600M3.500 2.100v.4"/></svg>

  <div class="abs" style="left:13px;top:265px;width:169px;height:25.500px;border-radius:6px;background:#186fea"></div>
  <div class="t" style="left:13px;top:273px;width:169px;text-align:center;font-size:8.500px;font-weight:700;color:#fff">โอน</div>
  <svg class="abs" style="left:8px;top:260px" width="180" height="36" viewBox="0 0 180 36" fill="none"><rect x="2.500" y="3" width="174" height="30.200" stroke="#f01414" stroke-width="1.800" stroke-dasharray="5 2.200"/></svg>

  <div class="abs" style="left:195px;top:30px;width:5px;height:456px;background:#e7ecf3"></div>
  <div class="abs" style="left:195.700px;top:36.200px;width:3.600px;height:417px;background:#b3c0d4;border-radius:1.800px"></div>
  <svg class="abs" style="left:195px;top:30.500px" width="5" height="5" viewBox="0 0 5 5"><path d="M2.500 1.600L4 3.600H1z" fill="#b3c0d4"/></svg>
  <svg class="abs" style="left:195px;top:480.500px" width="5" height="5" viewBox="0 0 5 5"><path d="M2.500 3.600L4 1.600H1z" fill="#b3c0d4"/></svg>
</div>


</body>
</html>
